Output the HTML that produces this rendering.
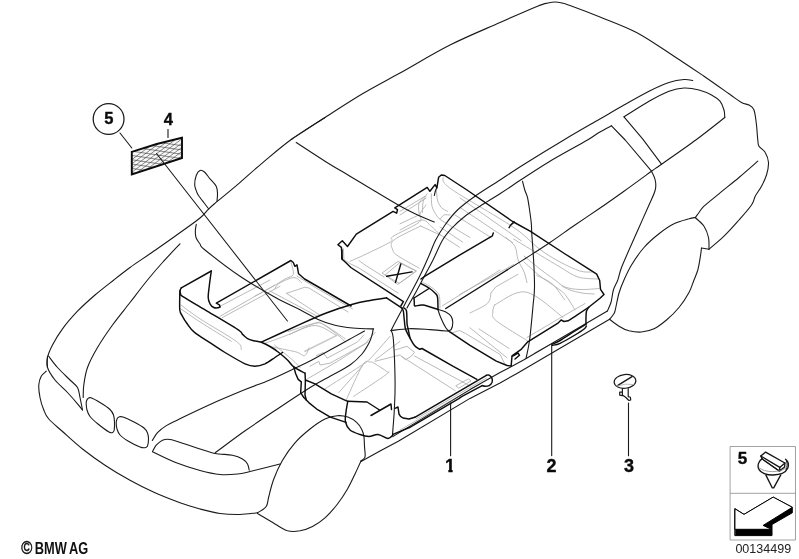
<!DOCTYPE html>
<html lang="en">
<head>
<meta charset="utf-8">
<title>Floor covering</title>
<style>
html,body{margin:0;padding:0;background:#fff;}
body{width:799px;height:559px;overflow:hidden;position:relative;font-family:"Liberation Sans",Arial,sans-serif;}
svg{position:absolute;left:0;top:0;display:block;filter:grayscale(1);}
</style>
</head>
<body>
<svg width="799" height="559" viewBox="0 0 799 559" fill="none" stroke-linecap="round" stroke-linejoin="round">
<g stroke="#c8c8c8" stroke-width="1.6">
<path d="M305.0,351.3 L336.3,335.6"/>
</g>
<g stroke="#b2b2b2" stroke-width="0.9">
<path d="M264.0,343.6 C267.5,342.3 276.5,339.4 285.0,336.0 C293.5,332.6 308.7,325.3 315.0,323.3 C321.3,321.3 318.6,321.9 322.6,324.0 C326.6,326.1 335.3,333.0 339.0,336.0 C342.7,339.0 344.0,341.0 345.0,342.0"/>
<path d="M289.5,334.5 C293.8,333.0 307.2,325.4 315.0,325.5 C322.8,325.6 332.5,333.7 336.0,335.3"/>
<path d="M270.0,346.5 C274.2,347.4 289.7,350.3 295.5,351.8 C301.3,353.3 302.4,356.2 304.6,355.6 C306.9,355.0 308.3,349.3 309.0,348.0"/>
<path d="M274.5,345.0 C277.5,347.5 288.2,356.2 292.5,360.0 C296.8,363.8 298.8,366.3 300.0,367.6"/>
<path d="M585.0,303.5 L560.0,318.0 L527.0,337.5"/>
<path d="M316.3,355.7 L323.2,352.5 L327.0,358.2 L357.6,341.9 L363.8,335.0"/>
<path d="M310.0,366.3 L318.8,361.3 L320.0,365.0 L330.0,363.2 L365.0,343.8 L375.0,332.5"/>
<path d="M307.5,378.8 L337.5,361.3 L368.0,342.0"/>
<path d="M325.0,388.8 C330.8,385.1 352.5,371.3 360.0,366.3 C367.5,361.3 365.0,363.8 370.0,358.8 C375.0,353.8 386.7,340.1 390.0,336.3"/>
<path d="M346.3,399.7 C349.0,393.9 358.7,371.3 362.6,365.0 C366.6,358.7 367.9,362.2 370.0,362.0 C372.1,361.8 372.3,362.2 375.0,363.8 C377.7,365.4 384.4,369.5 386.3,371.3 C388.2,373.1 391.7,370.2 386.3,374.4 C380.9,378.6 359.2,392.6 353.8,396.3"/>
<path d="M338.8,392.5 L362.6,365.7"/>
<path d="M375.0,360.0 L400.0,341.3"/>
<path d="M375.0,361.3 L400.0,355.0"/>
<path d="M395.0,350.0 L407.0,346.3 L414.5,352.3 L411.5,356.0 L405.5,359.8 L401.0,356.0"/>
<path d="M401.0,356.0 L455.1,390.6"/>
<path d="M414.5,356.0 L470.1,386.0"/>
<path d="M452.0,332.8 L459.6,330.5 L465.6,333.5 L500.1,354.5 L504.6,363.6"/>
<path d="M479.1,329.0 L509.1,348.5"/>
<path d="M291.0,262.5 C291.4,264.5 294.3,271.8 293.3,274.5 C292.3,277.2 288.6,276.9 285.0,279.0 C281.4,281.1 276.5,284.5 271.5,287.3 C266.5,290.1 257.8,294.6 255.0,296.0"/>
<path d="M297.0,276.0 L315.0,287.3 L352.6,309.0"/>
<path d="M274.5,289.5 C275.2,288.5 275.8,285.5 279.0,283.5 C282.2,281.5 290.2,277.6 294.0,277.5 C297.8,277.4 300.3,281.9 301.6,282.8"/>
<path d="M286.5,293.3 L304.6,287.3 L309.0,288.0 L348.1,312.0"/>
<path d="M286.5,293.3 L319.6,315.0"/>
<path d="M270.0,291.0 L318.0,316.6"/>
<path d="M288.0,331.6 C292.5,330.2 308.7,324.3 315.0,323.3 C321.3,322.3 320.6,323.0 325.6,325.6 C330.6,328.2 341.8,336.5 345.0,338.7"/>
<path d="M218.8,306.9 L270.0,280.0"/>
<path d="M220.0,316.3 L265.0,290.6 L275.0,285.0"/>
<path d="M222.5,317.5 L280.0,286.3"/>
<path d="M181.0,305.0 C184.2,307.3 190.8,312.8 200.0,318.8 C209.2,324.9 229.4,336.2 236.3,341.3 C243.2,346.4 240.5,348.3 241.3,349.7"/>
<path d="M181.0,309.0 C184.2,311.1 191.6,316.5 200.0,321.9 C208.4,327.3 226.1,338.1 231.3,341.3"/>
<path d="M443.2,177.5 C443.3,178.3 442.2,180.4 443.8,182.5 C445.4,184.6 447.4,186.4 452.6,190.0 C457.8,193.6 467.1,199.0 475.0,203.8 C482.9,208.6 492.5,214.1 500.0,218.8 C507.5,223.5 513.3,226.9 520.0,232.0 C526.7,237.1 533.3,244.5 540.0,249.5 C546.7,254.5 553.3,258.4 560.0,262.0 C566.7,265.6 574.7,269.3 580.0,271.0 C585.3,272.7 590.0,271.8 592.0,272.0"/>
<path d="M513.6,239.0 C518.0,241.7 532.3,250.3 540.0,255.0 C547.7,259.7 553.7,263.3 560.0,267.0 C566.3,270.7 571.7,275.0 578.0,277.0 C584.3,279.0 594.7,278.7 598.0,279.0"/>
<path d="M436.3,188.8 C436.5,190.7 436.7,196.9 437.5,200.0 C438.3,203.1 439.6,205.6 441.3,207.5 C443.0,209.4 446.6,210.7 447.6,211.3"/>
<path d="M431.3,193.8 C431.4,195.9 431.2,202.8 432.0,206.3 C432.8,209.8 435.0,212.9 436.3,215.0 C437.6,217.1 438.8,218.8 440.0,218.8 C441.2,218.8 442.1,215.6 443.8,215.0 C445.5,214.4 449.0,215.0 450.0,215.0"/>
<path d="M427.0,193.8 C426.4,195.1 423.9,198.2 423.2,201.3 C422.4,204.4 422.6,210.6 422.5,212.5"/>
<path d="M425.0,196.3 C424.0,197.6 419.7,200.7 418.8,203.8 C417.9,206.9 419.3,213.1 419.4,215.0"/>
<path d="M400.0,211.3 L425.0,196.3"/>
<path d="M400.0,215.0 L426.3,198.0"/>
<path d="M400.0,223.8 L418.8,215.0"/>
<path d="M400.0,230.0 C403.6,228.3 416.1,220.6 421.3,220.0 C426.5,219.4 428.2,223.9 431.3,226.3 C434.4,228.8 438.6,233.3 440.0,234.7"/>
<path d="M343.3,248.6 L344.0,259.8 L350.0,263.6 L359.0,268.0 L398.0,293.0"/>
<path d="M350.0,261.3 C352.5,260.2 358.2,257.9 365.0,254.6 C371.8,251.3 386.0,244.8 390.6,241.8 C395.2,238.8 388.1,239.8 392.8,236.5 C397.6,233.2 414.6,226.1 419.1,222.3 C423.6,218.6 418.8,216.9 419.9,214.0 C421.0,211.1 425.0,206.5 426.0,205.0"/>
<path d="M420.6,226.0 C416.1,228.4 398.2,236.3 393.6,240.3 C389.0,244.3 392.1,247.4 392.8,250.0 C393.6,252.6 393.7,253.0 398.1,256.0 C402.5,259.0 415.6,266.1 419.1,268.1"/>
<path d="M420.6,226.0 L440.1,235.0"/>
<path d="M359.0,260.6 L365.0,265.0 L384.0,277.0"/>
<path d="M385.3,274.8 L399.6,262.8 L416.1,271.1 L399.6,283.1Z"/>
<path d="M455.0,215.0 L491.0,237.5"/>
<path d="M460.0,197.9 L521.3,240.8"/>
<path d="M460.0,207.5 L512.6,242.6"/>
<path d="M440.0,219.5 L470.0,237.5"/>
<path d="M440.0,227.0 L462.5,242.0"/>
<path d="M440.0,234.5 L459.5,247.3"/>
<path d="M506.0,237.5 C507.5,239.0 513.0,242.8 515.0,246.5 C517.0,250.2 516.6,255.8 518.1,260.0 C519.6,264.2 522.6,268.2 524.1,272.0 C525.6,275.8 526.5,280.8 527.0,282.6"/>
<path d="M459.5,294.6 L513.6,264.6"/>
<path d="M491.0,293.0 L495.6,287.0 L518.0,274.3"/>
<path d="M491.0,292.8 C490.4,294.6 491.0,299.9 487.5,303.3 C484.0,306.7 472.9,311.4 470.0,313.0"/>
<path d="M494.5,305.0 C499.8,302.8 514.6,289.9 526.0,292.0 C537.4,294.1 556.8,313.1 562.9,317.3"/>
<path d="M494.5,305.0 C494.2,306.2 492.5,309.4 492.8,312.0 C493.1,314.6 490.5,316.0 496.3,320.8 C502.1,325.6 522.5,337.6 527.8,341.0"/>
<path d="M470.0,327.8 L506.8,357.6"/>
<path d="M524.0,262.0 C526.7,264.3 534.0,271.3 540.0,276.0 C546.0,280.7 555.7,286.7 560.0,290.0 C564.3,293.3 563.5,292.4 566.0,295.7 C568.5,299.0 573.5,307.6 575.0,310.0"/>
<path d="M562.0,286.0 C563.3,286.7 566.7,288.8 570.0,290.0 C573.3,291.2 578.0,292.3 582.0,293.0 C586.0,293.7 592.0,293.8 594.0,294.0"/>
<path d="M524.0,256.0 C526.7,258.2 534.8,265.0 540.0,269.0 C545.2,273.0 550.8,277.0 555.0,280.0 C559.2,283.0 560.8,285.4 565.0,287.0 C569.2,288.6 574.3,289.2 580.0,289.5 C585.7,289.8 595.8,288.7 599.0,288.5"/>
<path d="M536.6,275.3 C539.2,276.8 547.7,279.9 552.4,284.0 C557.1,288.1 562.6,297.2 564.6,299.8"/>
<path d="M416.2,418.7 L486.4,378.1"/>
<path d="M400.0,430.0 L480.0,384.0"/>
<path d="M456.1,385.6 L468.5,378.8 L471.0,381.0 L459.0,388.0Z"/>
<path d="M534.5,353.0 L549.6,344.8"/>
<path d="M423.0,282.5 C424.3,283.2 428.7,285.4 431.0,287.0 C433.3,288.6 435.6,290.4 437.0,292.0 C438.4,293.6 439.0,293.8 439.5,296.5 C440.0,299.2 439.9,306.1 440.0,308.0"/>
<path d="M500.1,270.0 L442.3,305.9"/>
<path d="M382.4,272.8 L398.1,261.4 L416.5,271.0 L398.1,284.2Z"/>
</g>
<g stroke="#1a1a1a" stroke-width="1.1">
<path d="M291.2,139.5 C296.9,135.8 313.1,125.1 325.0,117.5 C336.9,109.9 350.0,101.2 362.5,93.8 C375.0,86.3 385.4,81.1 400.0,73.0 C414.6,64.9 433.3,53.4 450.0,45.0 C466.7,36.6 485.4,29.0 500.0,22.5 C514.6,16.0 529.5,9.5 537.5,6.2 C545.5,3.0 545.1,3.7 548.0,3.0 C550.9,2.3 552.7,2.0 555.0,2.0 C557.3,2.0 559.5,2.4 562.0,3.0 C564.5,3.6 563.7,3.2 570.0,5.5 C576.3,7.8 588.9,12.5 600.0,17.0 C611.1,21.5 624.2,26.0 636.5,32.5 C648.8,39.0 662.8,49.0 674.0,56.2 C685.2,63.5 694.8,70.0 704.0,76.2 C713.2,82.5 722.8,89.4 729.0,93.8 C735.2,98.1 738.2,100.6 741.5,102.5 C744.8,104.4 746.9,103.8 749.0,105.0 C751.1,106.2 752.8,106.7 754.0,110.0 C755.2,113.3 755.9,120.0 756.5,125.0 C757.1,130.0 757.3,136.5 757.8,140.0 C758.2,143.5 757.8,144.2 759.0,146.2 C760.2,148.3 763.7,149.8 765.2,152.5 C766.8,155.2 768.3,158.8 768.5,162.5 C768.7,166.2 767.7,171.0 766.5,175.0 C765.3,179.0 763.4,182.7 761.5,186.2 C759.6,189.8 756.9,193.1 755.2,196.2 C753.6,199.4 754.2,201.0 751.5,205.0 C748.8,209.0 743.6,214.8 739.0,220.0 C734.4,225.2 729.0,231.4 724.0,236.2 C719.0,241.1 711.5,247.1 709.0,249.2"/>
<path d="M709.0,249.2 L701.5,248.0"/>
<path d="M701.5,248.0 C701.3,249.6 700.9,253.8 700.2,257.5 C699.6,261.2 698.8,266.2 697.8,270.0 C696.7,273.8 695.5,276.2 694.0,280.0 C692.5,283.8 691.5,287.9 689.0,292.5 C686.5,297.1 682.8,302.9 679.0,307.5 C675.2,312.1 670.7,316.5 666.5,320.0 C662.3,323.5 658.2,326.8 654.0,328.8 C649.8,330.8 645.7,331.7 641.5,332.0 C637.3,332.3 632.8,331.7 629.0,330.8 C625.2,329.8 622.2,328.2 619.0,326.2 C615.8,324.3 611.2,320.5 609.6,319.3"/>
<path d="M325.0,117.5 C319.4,121.2 301.7,131.9 291.2,139.5 C280.8,147.1 271.5,155.3 262.5,162.8 C253.5,170.3 245.0,178.2 237.5,184.6 C230.0,191.0 222.3,197.2 217.5,201.2 C212.7,205.3 211.7,206.0 208.8,208.8 C205.8,211.5 205.6,213.4 200.0,218.0 C194.4,222.6 183.3,230.3 175.0,236.2 C166.7,242.2 157.5,248.5 150.0,253.8 C142.5,259.0 136.0,263.1 130.0,267.5 C124.0,271.9 119.6,275.4 113.8,280.0 C107.9,284.6 101.0,289.8 95.0,295.0 C89.0,300.2 82.9,305.6 77.5,311.2 C72.1,316.9 66.7,323.1 62.5,328.8 C58.3,334.4 55.0,340.2 52.5,345.0 C50.0,349.8 48.3,353.8 47.5,357.5 C46.7,361.2 47.5,365.8 47.5,367.5"/>
<path d="M296.2,142.5 C301.0,145.6 316.0,155.6 325.0,161.2 C334.0,166.9 341.7,171.2 350.0,176.2 C358.3,181.2 366.7,186.3 375.0,191.2 C383.3,196.2 392.9,202.0 400.0,206.0 C407.1,210.0 411.9,212.3 417.6,215.0 C423.3,217.7 431.5,220.8 434.3,222.0"/>
<path d="M217.0,201.2 C217.1,200.0 217.6,196.2 217.5,193.8 C217.4,191.2 217.5,188.8 216.2,186.2 C215.0,183.8 212.0,181.1 210.0,178.8 C208.0,176.4 206.2,173.4 204.5,172.0 C202.8,170.6 201.4,169.9 200.0,170.5 C198.6,171.1 197.1,173.1 196.2,175.5 C195.4,177.9 194.5,182.0 194.7,185.0 C194.9,188.0 196.6,191.7 197.5,193.8 C198.4,195.8 199.0,196.0 200.0,197.5 C201.0,199.0 202.3,200.6 203.8,202.5 C205.2,204.4 207.9,207.9 208.8,209.0"/>
<path d="M196.3,224.3 C196.2,225.2 195.5,227.8 195.4,230.0 C195.3,232.2 195.2,235.2 196.0,237.5 C196.8,239.8 198.5,241.9 200.0,244.0 C201.5,246.1 198.3,244.6 205.0,250.0 C211.7,255.4 228.3,268.4 240.0,276.3 C251.7,284.2 265.0,291.7 275.0,297.3 C285.0,302.9 292.9,306.2 300.0,309.8 C307.1,313.4 311.7,316.6 317.5,319.2 C323.3,321.8 329.1,323.8 335.0,325.3 C340.9,326.8 346.2,327.4 352.6,328.0 C359.0,328.6 370.1,328.8 373.6,328.9"/>
<path d="M180.0,243.8 C177.1,246.9 167.9,256.5 162.5,262.5 C157.1,268.5 152.9,273.3 147.5,280.0 C142.1,286.7 135.8,295.0 130.0,302.5 C124.2,310.0 117.9,317.5 112.5,325.0 C107.1,332.5 101.7,340.4 97.5,347.5 C93.3,354.6 89.8,361.2 87.5,367.5 C85.2,373.8 84.5,380.0 83.8,385.0 C83.0,390.0 83.3,395.4 83.2,397.5"/>
<path d="M47.5,356.2 C47.5,358.1 46.2,363.5 47.5,367.5 C48.8,371.5 51.7,375.8 55.0,380.0 C58.3,384.2 63.8,388.5 67.5,392.5 C71.2,396.5 75.0,400.8 77.5,403.8 C80.0,406.7 81.7,409.0 82.5,410.0"/>
<path d="M48.5,356.0 C50.0,357.9 53.9,363.5 57.5,367.5 C61.1,371.5 66.7,376.7 70.0,380.0 C73.3,383.3 75.8,384.6 77.5,387.5 C79.2,390.4 79.2,393.8 80.0,397.5 C80.8,401.2 82.1,407.9 82.5,410.0"/>
<path d="M46.2,371.2 C45.4,372.1 42.5,374.0 41.2,376.2 C40.0,378.5 39.0,381.5 38.8,385.0 C38.5,388.5 39.2,393.3 40.0,397.5 C40.8,401.7 42.3,406.4 43.8,410.0 C45.2,413.6 45.6,415.4 48.8,419.0 C51.9,422.6 56.9,426.5 62.5,431.5 C68.1,436.5 75.4,443.4 82.5,449.0 C89.6,454.6 97.1,460.0 105.0,465.2 C112.9,470.5 121.7,475.7 130.0,480.2 C138.3,484.8 146.7,489.0 155.0,492.8 C163.3,496.5 172.5,500.0 180.0,502.8 C187.5,505.5 193.3,507.2 200.0,509.0 C206.7,510.8 213.3,512.6 220.0,513.5 C226.7,514.4 233.8,514.6 240.0,514.5 C246.2,514.4 254.6,513.0 257.5,512.8"/>
<path d="M86.5,401.0 C86.8,400.1 87.2,399.0 88.0,398.5 C88.8,398.0 89.0,397.1 91.0,397.8 C93.0,398.5 96.8,400.6 100.0,402.5 C103.2,404.4 107.8,407.4 110.0,409.5 C112.2,411.6 112.8,412.9 113.5,415.0 C114.2,417.1 114.4,419.5 114.5,422.0 C114.6,424.5 114.5,428.2 114.2,430.0 C113.9,431.8 113.4,432.2 112.5,432.5 C111.6,432.8 111.4,433.4 109.0,432.0 C106.6,430.6 101.2,426.6 98.0,424.0 C94.8,421.4 91.8,418.8 90.0,416.5 C88.2,414.2 87.6,412.1 87.0,410.0 C86.4,407.9 86.3,405.5 86.2,404.0 C86.1,402.5 86.2,401.9 86.5,401.0Z"/>
<path d="M117.0,419.0 C117.5,418.0 118.0,417.3 119.0,417.0 C120.0,416.7 120.5,416.2 123.0,417.0 C125.5,417.8 130.5,420.2 134.0,422.0 C137.5,423.8 141.8,426.2 144.0,428.0 C146.2,429.8 146.8,431.2 147.5,433.0 C148.2,434.8 148.5,436.8 148.5,439.0 C148.5,441.2 148.1,444.6 147.5,446.0 C146.9,447.4 146.2,447.5 145.0,447.7 C143.8,447.9 142.8,448.1 140.0,447.0 C137.2,445.9 131.3,443.0 128.0,441.0 C124.7,439.0 121.8,437.0 120.0,435.0 C118.2,433.0 117.6,431.0 117.0,429.0 C116.4,427.0 116.2,424.7 116.2,423.0 C116.2,421.3 116.5,420.0 117.0,419.0Z"/>
<path d="M152.3,440.5 C153.2,439.2 155.2,435.1 157.5,432.6 C159.8,430.1 162.8,427.8 166.3,425.6 C169.8,423.4 171.2,422.9 178.5,419.4 C185.8,415.9 199.0,409.5 210.1,404.5 C221.2,399.5 235.2,393.7 245.1,389.6 C255.0,385.5 261.4,383.6 269.7,380.0 C278.0,376.4 288.3,371.4 295.0,368.2 C301.7,365.0 304.2,364.0 310.0,361.0 C315.8,358.0 323.3,353.7 330.0,350.0 C336.7,346.3 344.2,342.2 350.0,339.0 C355.8,335.8 362.1,332.3 364.5,331.0"/>
<path d="M215.3,452.7 C220.3,449.1 234.3,438.4 245.1,430.8 C255.9,423.2 268.8,414.7 280.0,407.2 C291.2,399.7 304.1,391.2 312.6,386.0 C321.1,380.8 324.8,379.2 331.0,375.7 C337.2,372.2 344.8,368.6 350.0,365.0 C355.2,361.4 358.8,357.7 362.0,354.0 C365.2,350.3 367.3,346.2 369.0,343.0 C370.7,339.8 371.3,337.3 372.0,335.0 C372.7,332.7 373.0,330.0 373.2,329.0"/>
<path d="M152.5,451.5 C153.1,450.5 154.6,447.1 156.2,445.2 C157.9,443.4 160.2,441.2 162.5,440.2 C164.8,439.3 166.2,438.9 170.0,439.5 C173.8,440.1 180.0,442.4 185.0,444.0 C190.0,445.6 195.0,447.4 200.0,449.0 C205.0,450.6 209.6,452.5 215.0,453.5 C220.4,454.5 227.9,454.3 232.5,455.2 C237.1,456.2 240.0,457.5 242.5,459.0 C245.0,460.5 246.4,462.1 247.5,464.0 C248.6,465.9 249.0,469.2 249.2,470.2"/>
<path d="M152.5,451.8 C156.2,453.6 167.1,459.2 175.0,462.3 C182.9,465.4 192.5,468.5 200.0,470.5 C207.5,472.5 213.8,473.9 220.0,474.5 C226.2,475.1 232.5,474.5 237.5,474.0 C242.5,473.5 242.9,473.2 250.0,471.5 C257.1,469.8 275.0,465.2 280.0,464.0"/>
<path d="M257.5,512.8 C259.0,511.7 264.4,509.2 266.2,506.5 C268.1,503.8 267.5,501.1 268.8,496.5 C270.0,491.9 271.5,485.0 273.8,479.0 C276.0,473.0 279.0,466.3 282.5,460.2 C286.0,454.2 290.4,448.0 295.0,442.8 C299.6,437.5 305.0,433.0 310.0,429.0 C315.0,425.0 320.4,421.2 325.0,419.0 C329.6,416.8 333.5,416.0 337.3,415.7 C341.1,415.4 344.6,416.0 347.8,417.1 C351.0,418.2 354.3,420.3 356.6,422.4 C358.9,424.4 360.6,427.0 361.8,429.4 C363.0,431.8 363.6,434.1 364.0,437.0 C364.4,439.9 364.3,443.5 364.5,446.5 C364.7,449.5 365.2,453.1 365.2,455.0 C365.2,456.9 365.2,457.0 364.5,458.0 C363.8,459.0 361.6,460.5 361.0,461.0"/>
<path d="M257.5,513.5 C260.4,515.2 270.0,521.1 275.0,524.0 C280.0,526.9 283.3,529.6 287.5,530.8 C291.7,531.9 295.8,531.5 300.0,530.8 C304.2,530.0 308.3,528.7 312.5,526.5 C316.7,524.3 320.8,521.5 325.0,517.8 C329.2,514.0 333.8,508.8 337.5,504.0 C341.2,499.2 344.6,494.0 347.5,489.0 C350.4,484.0 352.8,478.7 355.0,474.0 C357.2,469.3 360.0,463.2 361.0,461.0"/>
<path d="M361.0,461.5 L380.0,451.0 L398.3,441.2 L470.0,398.4 L500.0,382.9 L516.5,373.7 L609.6,319.3"/>
<path d="M392.8,436.6 L470.0,389.6 L500.0,372.6 L524.0,359.8 L607.4,311.0"/>
<path d="M692.8,80.5 C691.3,80.3 688.0,79.2 684.0,79.5 C680.0,79.8 674.8,80.5 669.0,82.5 C663.2,84.5 656.5,87.5 649.0,91.2 C641.5,95.0 632.3,100.3 624.0,105.0 C615.7,109.7 609.0,113.7 599.0,119.5 C589.0,125.3 576.1,132.6 563.8,140.0 C551.4,147.4 535.6,157.1 525.0,163.8 C514.4,170.4 508.3,174.6 500.0,180.0 C491.7,185.4 482.1,191.2 475.0,196.2 C467.9,201.2 462.5,205.2 457.5,210.0 C452.5,214.8 448.6,220.0 445.0,225.0 C441.4,230.0 438.5,234.5 435.7,240.0 C432.9,245.5 430.8,251.8 428.0,258.0 C425.2,264.2 422.8,270.0 419.0,277.5 C415.2,285.0 409.6,295.3 405.5,303.0 C401.4,310.7 397.0,319.0 394.6,323.6 C392.2,328.2 391.7,329.4 391.1,330.6"/>
<path d="M611.5,125.8 C609.4,126.9 603.0,130.1 599.0,132.5 C595.0,134.9 595.7,135.2 587.5,140.0 C579.3,144.8 560.8,154.8 550.0,161.2 C539.2,167.7 530.8,173.3 522.5,178.8 C514.2,184.2 507.1,189.2 500.0,193.8 C492.9,198.3 485.8,202.5 480.0,206.2 C474.2,210.0 469.6,212.7 465.0,216.2 C460.4,219.8 456.2,223.5 452.5,227.5 C448.8,231.5 445.9,234.6 442.6,240.0 C439.4,245.4 435.9,254.2 433.0,260.0 C430.1,265.8 428.0,269.4 425.0,275.0 C422.0,280.6 418.0,288.3 415.0,293.8 C412.0,299.3 408.3,305.6 407.0,308.0"/>
<path d="M611.5,125.8 L625.2,140.0 L651.5,171.2"/>
<path d="M624.0,116.8 L642.8,139.2 L661.5,164.2"/>
<path d="M624.0,116.8 C628.2,114.2 641.5,105.5 649.0,101.2 C656.5,97.0 663.2,93.5 669.0,91.2 C674.8,89.0 679.0,88.2 684.0,88.0 C689.0,87.8 694.4,88.8 699.0,90.0 C703.6,91.2 708.0,93.1 711.5,95.0 C715.0,96.9 717.9,98.8 720.0,101.2 C722.1,103.8 723.2,107.3 724.0,110.0 C724.8,112.7 724.6,116.2 724.8,117.5"/>
<path d="M724.8,117.5 C720.0,121.2 707.0,131.7 696.5,139.5 C686.0,147.3 669.0,159.0 661.5,164.2 C654.0,169.5 657.8,166.8 651.5,171.2 C645.2,175.8 632.8,185.0 624.0,191.2 C615.2,197.5 607.2,203.1 599.0,208.8 C590.8,214.4 583.2,219.4 575.0,225.0 C566.8,230.6 558.3,236.9 550.0,242.5 C541.7,248.1 532.1,254.2 525.0,258.8 C517.9,263.3 510.1,268.1 507.1,270.0"/>
<path d="M522.5,181.2 C522.9,182.7 524.0,187.3 524.8,190.0 C525.6,192.7 526.8,194.6 527.5,197.5 C528.2,200.4 528.6,203.3 529.2,207.5 C529.8,211.7 530.8,218.1 531.2,222.5 C531.7,226.9 531.4,227.6 531.8,233.8 C532.2,240.1 533.1,251.0 533.6,260.0 C534.1,269.0 534.6,280.1 534.5,287.6 C534.4,295.1 533.9,296.3 533.1,305.0 C532.3,313.7 530.8,331.1 529.6,340.0 C528.4,348.9 526.6,355.4 526.0,358.5"/>
<path d="M651.5,171.2 C652.1,172.7 654.6,176.9 655.2,180.0 C655.9,183.1 656.3,185.8 655.2,190.0 C654.2,194.2 651.7,198.8 649.0,205.0 C646.3,211.2 642.3,220.0 639.0,227.5 C635.7,235.0 631.9,243.3 629.0,250.0 C626.1,256.7 623.4,262.5 621.5,267.5 C619.6,272.5 619.1,276.2 617.8,280.0 C616.4,283.8 614.5,286.3 613.4,290.0 C612.3,293.7 612.1,298.5 611.1,302.0 C610.1,305.5 608.0,309.5 607.4,311.0"/>
<path d="M695.2,217.5 C694.2,217.7 692.5,217.7 689.0,218.8 C685.5,219.8 679.0,221.2 674.0,223.8 C669.0,226.2 664.0,229.8 659.0,233.8 C654.0,237.7 648.6,242.3 644.0,247.5 C639.4,252.7 634.8,259.6 631.5,265.0 C628.2,270.4 626.1,275.3 624.0,280.0 C621.9,284.7 620.5,287.8 619.0,293.0 C617.5,298.2 616.0,307.3 615.0,311.0 C614.0,314.7 613.9,313.6 613.0,315.0 C612.1,316.4 610.2,318.6 609.6,319.3"/>
<path d="M757.8,161.2 C754.6,164.0 745.5,172.1 739.0,177.5 C732.5,182.9 724.8,189.0 719.0,193.8 C713.2,198.5 707.3,203.1 704.0,206.2 C700.7,209.4 700.5,210.6 699.0,212.5 C697.5,214.4 695.9,216.7 695.2,217.5"/>
<path d="M695.2,217.5 C696.7,219.0 701.8,222.9 704.0,226.2 C706.2,229.6 707.7,233.7 708.5,237.5 C709.3,241.3 708.9,247.3 709.0,249.2"/>
<path d="M436.9,187.8 C436.7,188.2 435.9,189.2 435.5,190.5 C435.1,191.8 434.5,194.7 434.3,195.5"/>
<path d="M437.9,309.4 C439.2,309.8 443.6,310.8 445.8,312.0 C448.0,313.2 449.9,314.6 451.1,316.4 C452.3,318.2 452.8,320.4 452.8,322.6 C452.8,324.8 452.0,328.3 451.1,329.6 C450.2,330.9 448.2,330.4 447.6,330.5"/>
<path d="M437.9,309.4 C438.3,310.7 439.3,314.2 440.6,317.3 C441.9,320.4 444.2,325.3 445.8,327.8 C447.4,330.3 449.5,331.5 450.2,332.2"/>
<path d="M391.1,330.6 C391.5,332.2 392.7,331.1 393.4,340.0 C394.1,348.9 395.0,372.1 395.1,383.8 C395.2,395.5 394.7,401.5 394.3,410.0 C393.9,418.5 392.8,430.5 392.5,434.6"/>
<path d="M391.0,330.6 C394.0,330.3 402.5,328.9 409.0,328.7 C415.5,328.5 423.3,329.2 430.0,329.6 C436.7,330.0 446.1,331.0 449.3,331.3"/>
<path d="M450.6,403.0 L450.6,455.7"/>
<path d="M551.7,345.0 L551.7,455.6"/>
<path d="M628.5,403.0 L628.5,455.7"/>
<path d="M168.0,129.5 L168.0,137.5"/>
<path d="M120.0,133.0 L131.8,148.0"/>
</g>
<g stroke="#0d0d0d" stroke-width="1.45">
<path d="M414.8,417.3 L486.4,375.3"/>
<path d="M486.4,375.3 C486.8,375.3 488.2,374.6 489.1,375.1 C490.0,375.6 491.4,376.9 491.9,378.1 C492.4,379.3 492.6,380.9 492.1,382.2 C491.6,383.4 490.3,384.9 489.1,385.6 C487.9,386.3 486.1,386.3 485.0,386.3 C483.9,386.3 482.7,385.7 482.2,385.6"/>
<path d="M482.2,385.6 L461.6,396.7 L458.8,398.7 L417.5,422.8 L410.6,427.0 L393.0,434.3"/>
<path d="M551.8,344.3 C553.2,343.7 556.2,342.7 560.1,340.5 C564.0,338.3 571.0,333.5 575.0,331.0 C579.0,328.5 582.2,326.5 584.1,325.3 C586.0,324.1 586.0,324.1 586.4,323.8"/>
<path d="M552.5,345.3 C553.8,345.0 556.4,345.0 560.1,343.3 C563.9,341.6 571.0,337.4 575.0,335.0 C579.0,332.6 582.2,330.5 584.1,329.0 C586.0,327.5 586.0,326.5 586.4,326.0"/>
<path d="M589.0,307.0 C588.6,307.7 587.0,309.3 586.5,311.0 C586.0,312.7 586.1,314.8 586.0,317.0 C585.9,319.2 586.0,322.8 586.0,324.0"/>
<path d="M512.8,356.0 L518.0,353.0 L519.5,355.3 L515.0,359.0"/>
<path d="M211.3,271.0 C211.0,273.3 209.9,280.6 209.4,285.0 C208.9,289.4 208.1,294.4 208.2,297.5 C208.3,300.6 209.1,302.1 210.0,303.8 C210.9,305.5 212.4,306.8 213.8,307.5 C215.2,308.2 217.2,307.9 218.2,307.8 C219.2,307.7 219.7,307.0 220.0,306.9"/>
<path d="M181.3,287.8 L211.3,271.0"/>
<path d="M220.0,306.9 L219.4,304.8 L216.3,303.2 L290.9,260.5 L293.3,262.5 L294.8,266.3 L297.0,264.8 L298.6,273.8 L304.6,279.0 L315.0,285.0 L351.1,306.0"/>
<path d="M180.0,290.7 C180.0,291.2 179.8,290.6 179.8,293.8 C179.8,297.0 179.4,306.2 179.8,310.0 C180.2,313.8 181.3,314.1 182.5,316.3 C183.7,318.6 185.0,320.8 187.0,323.5 C189.0,326.2 190.6,329.2 194.5,332.4 C198.4,335.6 205.2,339.5 210.3,342.9 C215.4,346.2 219.2,349.0 225.0,352.5 C230.8,356.0 240.0,361.5 245.0,363.8 C250.0,366.0 251.7,366.2 255.0,366.2 C258.3,366.2 261.7,365.2 265.0,363.8 C268.3,362.3 272.1,359.4 275.0,357.5 C277.9,355.6 281.2,353.3 282.5,352.5"/>
<path d="M181.3,287.8 C181.1,288.3 180.1,289.7 180.0,290.7 C179.9,291.7 180.2,292.9 180.6,293.8 C181.0,294.7 178.0,293.4 182.5,296.3 C187.0,299.2 198.3,305.8 207.5,311.3 C216.7,316.8 231.7,325.5 237.5,329.4 C243.3,333.2 240.9,332.9 242.6,334.4 C244.3,335.9 245.7,337.6 247.6,338.6 C249.5,339.7 251.5,340.1 253.8,340.7 C256.1,341.3 258.6,341.2 261.3,342.2 C264.0,343.2 267.1,344.8 270.0,346.5 C272.9,348.2 275.9,350.2 278.8,352.5 C281.7,354.8 285.0,357.6 287.5,360.0 C290.0,362.4 290.9,364.7 293.8,366.9 C296.7,369.1 303.1,372.1 305.0,373.2"/>
<path d="M261.3,342.2 C267.8,339.2 289.2,329.3 300.0,324.4 C310.8,319.5 317.5,316.4 326.3,313.0 C335.1,309.6 345.3,306.4 352.6,304.3 C359.9,302.2 364.8,301.5 370.0,300.5 C375.2,299.5 381.4,298.8 384.1,298.3 C386.9,297.9 386.1,297.9 386.5,297.8"/>
<path d="M386.5,297.8 L401.6,307.8"/>
<path d="M342.3,259.6 L341.4,247.4 L337.9,244.7 L342.3,240.7 L347.5,246.5 L356.3,234.2 L393.1,211.4 L396.6,213.2 L397.5,209.7 L394.8,207.9 L427.2,187.4 L429.9,191.3 L435.1,184.6 L436.9,187.8 L438.6,177.3 L441.3,175.0 L444.8,175.5 L467.0,190.0 L512.6,221.5 L530.1,231.2 L565.1,254.0 L589.7,269.7 L596.7,274.1 L599.7,280.5 L600.5,289.3 L604.0,294.5 L600.0,298.3 L589.0,307.0 L575.1,316.4 L568.1,320.8 L564.0,321.5 L561.1,320.0 L557.6,323.4 L527.8,341.8 L520.8,349.7 L512.0,355.9 L511.2,365.5"/>
<path d="M342.0,250.0 L341.7,258.8 L347.3,264.0 L350.8,267.5 L403.4,301.7 L400.8,306.0"/>
<path d="M509.1,227.7 C509.4,227.2 509.9,226.0 510.8,225.0 C511.7,224.0 513.7,222.4 514.3,221.9"/>
<path d="M401.6,307.8 C401.9,308.4 402.9,309.3 403.4,311.3 C403.8,313.3 403.9,317.1 404.3,320.0 C404.7,322.9 404.6,326.0 405.5,329.0 C406.4,332.0 408.5,335.2 410.0,338.0 C411.5,340.8 412.9,343.6 414.5,345.5 C416.1,347.4 418.9,348.7 419.8,349.3"/>
<path d="M419.8,349.3 L422.0,348.5 L452.8,366.2 L476.9,379.3"/>
<path d="M450.2,332.2 L470.0,345.3 L496.3,361.1 L507.1,365.5 L511.0,366.0"/>
<path d="M404.0,308.0 C404.4,308.5 406.0,308.5 406.5,311.0 C407.0,313.5 406.8,320.1 407.0,323.0 C407.2,325.9 407.5,326.0 408.0,328.5 C408.5,331.0 409.7,336.4 410.0,338.0"/>
<path d="M305.0,373.2 L305.4,380.0 L315.0,383.8 L331.3,393.8 L347.6,401.3 L367.0,402.0 L379.5,410.0"/>
<path d="M371.0,415.5 L391.0,404.0 L391.5,409.5"/>
<path d="M395.0,408.3 L398.0,407.0 L399.0,414.0 L400.5,416.3 L403.0,418.0 L409.0,419.0 L414.8,417.3"/>
<path d="M293.8,366.9 L295.7,373.8 L298.2,379.4 L301.3,381.9 L300.7,392.6 L303.8,397.6 L308.8,402.6 L317.6,409.7 L330.3,417.1 L346.1,422.4"/>
<path d="M305.4,380.0 L305.0,395.0 L306.3,400.0"/>
<path d="M347.8,401.3 C347.5,403.1 346.4,408.6 346.0,412.0 C345.6,415.4 344.8,419.0 345.5,422.0 C346.2,425.0 347.6,427.9 350.0,430.0 C352.4,432.1 356.8,433.4 360.0,434.5 C363.2,435.6 366.0,436.5 369.0,436.5 C372.0,436.5 374.8,434.2 378.0,434.5 C381.2,434.8 385.5,438.4 388.0,438.5 C390.5,438.6 392.2,435.6 393.0,435.0"/>
<path d="M421.0,283.5 C422.3,284.2 426.7,286.4 429.0,288.0 C431.3,289.6 433.6,291.5 435.0,293.0 C436.4,294.5 437.0,294.3 437.5,297.0 C438.0,299.7 437.9,307.0 438.0,309.0"/>
<path d="M429.0,288.5 L414.0,298.0"/>
<path d="M414.0,298.0 C414.1,298.7 414.1,300.7 414.3,302.0 C414.5,303.3 413.6,305.5 415.0,306.0 C416.4,306.5 419.2,304.4 423.0,305.0 C426.8,305.6 435.5,308.8 438.0,309.5"/>
<path d="M507.1,270.0 L445.8,308.5"/>
<path d="M493.3,232.9 L492.4,235.9 L460.0,254.8 L425.0,276.2 L421.0,279.0"/>
<path d="M386.7,276.3 L412.1,271.9"/>
<path d="M395.5,282.4 L400.8,264.0"/>
</g>

<!-- net patch (4) -->
<defs>
<clipPath id="netclip"><path d="M131.8,151.8 Q157,143.2 182,137.8 L182,158 L131.8,174.5Z"/></clipPath>
<clipPath id="oneclip"><path d="M440,455 H460 V468.5 H452.6 V473 H448.4 V468.5 H440Z"/></clipPath>
</defs>
<path d="M131.8,151.8 Q157,143.2 182,137.8 L182,158 L131.8,174.5Z" fill="#f7f7f7" stroke="none"/>
<g clip-path="url(#netclip)" stroke="#3a3a3a" stroke-width="0.6">
<path d="M110.0,176 l60,-45 M115.6,176 l60,-45 M121.2,176 l60,-45 M126.8,176 l60,-45 M132.4,176 l60,-45 M138.0,176 l60,-45 M143.6,176 l60,-45 M149.2,176 l60,-45 M154.8,176 l60,-45 M160.4,176 l60,-45 M166.0,176 l60,-45 M171.6,176 l60,-45 M177.2,176 l60,-45 M182.8,176 l60,-45 M188.4,176 l60,-45 M194.0,176 l60,-45 M199.6,176 l60,-45 M205.2,176 l60,-45 M210.8,176 l60,-45"/>
<path d="M130,138.0 l54,8 M130,142.3 l54,8 M130,146.6 l54,8 M130,150.9 l54,8 M130,155.2 l54,8 M130,159.5 l54,8 M130,163.8 l54,8 M130,168.1 l54,8 M130,172.4 l54,8"/>
</g>
<path d="M131.8,151.8 Q157,143.2 182,137.8 L182,158 L131.8,174.5Z" fill="none" stroke="#0a0a0a" stroke-width="1.9" stroke-linejoin="miter"/>
<path d="M156.5,153.5 L287.4,321" stroke="#1a1a1a" stroke-width="1.05"/>
<!-- circle 5 -->
<circle cx="108.6" cy="119" r="15.4" stroke="#1a1a1a" stroke-width="1.25"/>
<!-- clip (3) -->
<g stroke="#1a1a1a" stroke-width="1.2">
<ellipse cx="625" cy="381.4" rx="10.9" ry="6.9" transform="rotate(-6 625 381.4)"/>
<path d="M617.9,385.3 L632,376.700" stroke-width="1.5"/>
<path d="M622.4,388.500 V395.100 L625.600,397.300 L628.900,400.500 L630.700,400 L630.400,397.300 L628.200,396.600 V388.700 M622.400,392.100 H619.700 V395.100 L622.400,395.600" />
</g>
<path d="M617,386 Q625,383 634,384.500" stroke="#aaa" stroke-width="0.8"/>
<!-- box -->
<g stroke="#979797" stroke-width="0.9">
<path d="M730.5,446.500 H795.500 V540 H730.500Z M730.500,493.300 H795.500"/>
</g>
<!-- clip icon (5) -->
<g stroke="#151515" stroke-width="1.35">
<path d="M762.200,458.600 C758.500,461 757.300,465.500 758.600,468.800 C760.500,473 767,475.200 773.300,475 C779.500,474.800 785.500,472.800 787.600,468.500 C789,465 788.500,461.500 785.500,459.300"/>
<path d="M786.600,461.200 C787.600,464 787.200,467 786,469.500" stroke-width="1"/>
<path d="M760.800,456 L765.600,452.100 L784.900,463 L779.800,467.400Z" fill="#fff"/>
<path d="M760.800,456 L762.200,459 L779.400,471.100 L784.600,467 L784.900,463 M779.800,467.400 L779.400,471.100"/>
<path d="M764,460.300 L777,469.300" stroke-width="0.9"/>
<path d="M765.900,475.100 L772.200,487.800 L773.700,487.800 L780.800,474.900"/>
</g>
<path d="M759.500,468 C764,472.500 780,473.500 786.500,467.500" stroke="#8a8a8a" stroke-width="0.8"/>
<!-- arrow -->
<path d="M735.2,508.900 L744,514.400 L773.200,497.100 L792.300,507.300 L792.300,512.800 L772,524.500 V535.600 H735.200Z" fill="#000" stroke="#000" stroke-width="1"/>
<path d="M735.200,508.900 L744,514.400 L773.200,497.100 L792.300,507.300 L763.100,525.400 L771.500,529.300 H735.200Z" fill="#fff" stroke="#000" stroke-width="1" stroke-linejoin="miter"/>


<g font-family="'Liberation Sans',Arial,sans-serif" font-weight="bold" fill="#0a0a0a" stroke="#0a0a0a" stroke-width="0.35" text-anchor="middle">
<text x="449.9" y="471.9" font-size="18" clip-path="url(#oneclip)">1</text>
<text x="551.4" y="471.9" font-size="18">2</text>
<text x="628.9" y="471.9" font-size="18">3</text>
<text x="168.3" y="124.6" font-size="16.5">4</text>
<text x="108.9" y="124.3" font-size="16.5">5</text>
<text x="742.5" y="464" font-size="17">5</text>
</g>
<text transform="translate(21.2,553.6) scale(0.812,1)" font-family="'Liberation Sans',Arial,sans-serif" font-weight="bold" font-size="15.8" fill="#111" stroke="none" word-spacing="-1.2"><tspan font-size="18.5" dy="0.4" font-weight="normal" stroke="#111" stroke-width="0.5">©</tspan><tspan dy="-0.4"> BMW AG</tspan></text>
<text transform="translate(735.4,552.6) scale(1.045,1)" font-family="'Liberation Sans',Arial,sans-serif" font-size="12" fill="#222" stroke="none">00134499</text>
</svg>
</body>
</html>
